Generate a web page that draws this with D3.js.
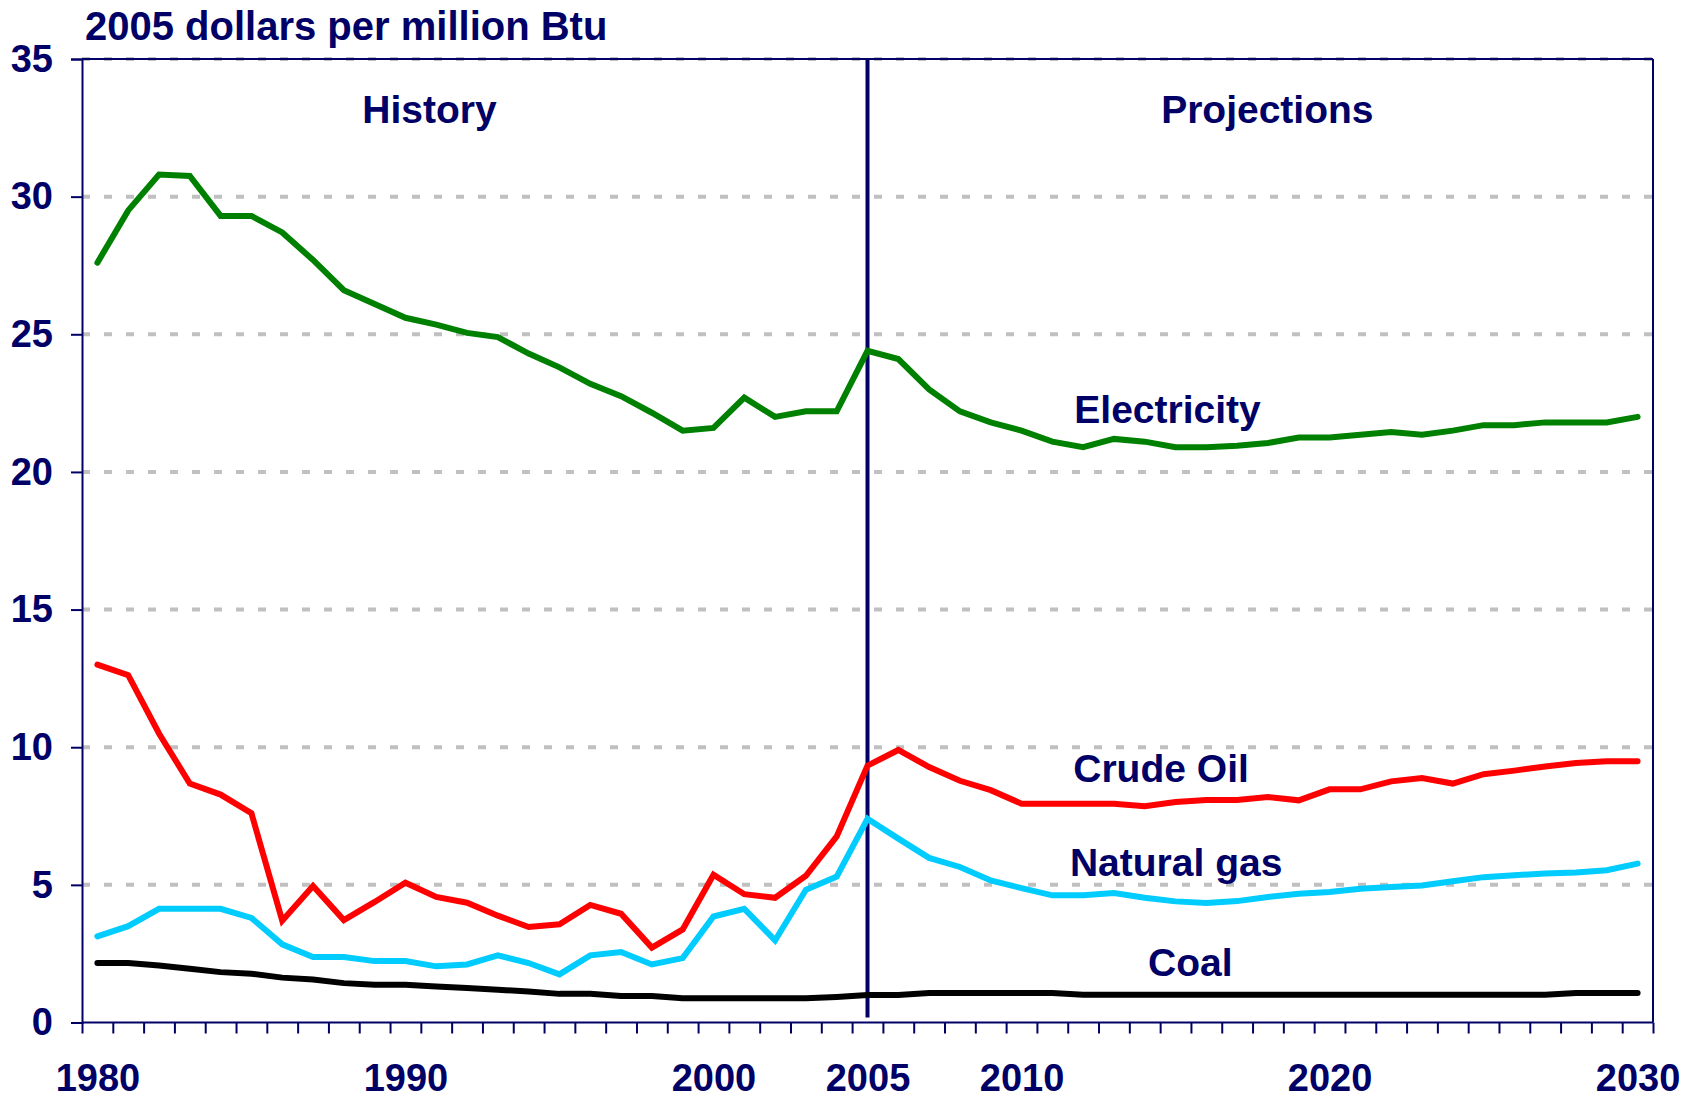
<!DOCTYPE html>
<html>
<head>
<meta charset="utf-8">
<script src="https://cdn.jsdelivr.net/npm/d3@7"></script>
<style>
  body { margin: 0; background: #fff; }
  text { font-family: "Liberation Sans", Arial, sans-serif; font-weight: bold; fill: #000066; }
</style>
</head>
<body>
<script>
// years 1980..2030
var years = d3.range(1980, 2031);

var electricity = [27.6, 29.5, 30.8, 30.75, 29.3, 29.3, 28.7, 27.7, 26.6, 26.1,
  25.6, 25.35, 25.05, 24.9, 24.3, 23.8, 23.2, 22.75, 22.15, 21.5,
  21.6, 22.7, 22.0, 22.2, 22.2, 24.4, 24.1, 23.0, 22.2, 21.8,
  21.5, 21.1, 20.9, 21.2, 21.1, 20.9, 20.9, 20.95, 21.05, 21.25,
  21.25, 21.35, 21.45, 21.35, 21.5, 21.7, 21.7, 21.8, 21.8, 21.8, 22.0];

var crudeOil = [13.0, 12.62, 10.5, 8.68, 8.28, 7.6, 3.7, 4.96, 3.72, 4.38,
  5.08, 4.56, 4.35, 3.88, 3.47, 3.57, 4.27, 3.95, 2.72, 3.38,
  5.37, 4.66, 4.53, 5.33, 6.76, 9.33, 9.9, 9.28, 8.78, 8.44,
  7.95, 7.95, 7.95, 7.95, 7.86, 8.01, 8.08, 8.08, 8.19, 8.07,
  8.47, 8.47, 8.76, 8.88, 8.68, 9.02, 9.15, 9.3, 9.43, 9.49, 9.49];

var naturalGas = [3.13, 3.5, 4.13, 4.13, 4.13, 3.8, 2.84, 2.38, 2.38, 2.23,
  2.23, 2.04, 2.11, 2.44, 2.16, 1.75, 2.44, 2.56, 2.11, 2.34,
  3.85, 4.13, 2.98, 4.82, 5.3, 7.4, 6.68, 5.98, 5.65, 5.16,
  4.88, 4.62, 4.62, 4.7, 4.53, 4.4, 4.34, 4.41, 4.56, 4.68,
  4.74, 4.86, 4.92, 4.98, 5.13, 5.28, 5.35, 5.41, 5.45, 5.53, 5.77];

var coal = [2.16, 2.16, 2.07, 1.95, 1.83, 1.77, 1.63, 1.56, 1.43, 1.37,
  1.37, 1.31, 1.25, 1.19, 1.13, 1.04, 1.04, 0.96, 0.96, 0.88,
  0.88, 0.88, 0.88, 0.88, 0.93, 1.0, 1.0, 1.07, 1.07, 1.07,
  1.07, 1.07, 1.01, 1.01, 1.01, 1.01, 1.01, 1.01, 1.01, 1.01,
  1.01, 1.01, 1.01, 1.01, 1.01, 1.01, 1.01, 1.01, 1.07, 1.07, 1.07];

var seriesNames = ["Electricity", "Crude Oil", "Natural gas", "Coal"];
var seriesColors = ["#008000", "#ff0000", "#00ccff", "#000000"];
var seriesValues = [electricity, crudeOil, naturalGas, coal];

// label anchors in data units: [year, value]
var labelPos = [[2014.74, 21.79], [2014.53, 8.75], [2015.02, 5.33], [2015.48, 1.69]];
var periodLabels = ["History", "Projections"];
var periodPos = [[1990.78, 32.68], [2017.98, 32.68]];

var xTickLabels = [1980, 1990, 2000, 2005, 2010, 2020, 2030];
var yTicks = [0, 5, 10, 15, 20, 25, 30, 35];
var splitYear = 2005;
var yTitle = "2005 dollars per million Btu";

var W = 1696, H = 1099;
var navy = "#000066";

var x = d3.scaleLinear().domain([1979.5, 2030.5]).range([82, 1653]);
var y = d3.scaleLinear().domain([0, 35]).range([1022.5, 59]);

var svg = d3.select("body").append("svg")
  .attr("width", W)
  .attr("height", H)
  .style("background", "#fff");

// dashed gridlines
svg.append("g")
  .selectAll("line")
  .data(yTicks.filter(function(d) { return d > 0; }))
  .join("line")
  .attr("x1", x(1979.5)).attr("x2", x(2030.5))
  .attr("y1", function(d) { return y(d); })
  .attr("y2", function(d) { return y(d); })
  .attr("stroke", "#c0c0c0")
  .attr("stroke-width", 4)
  .attr("stroke-dasharray", "8,14");

// frame top and right
svg.append("line")
  .attr("x1", x(1979.5)).attr("x2", x(2030.5))
  .attr("y1", y(35)).attr("y2", y(35))
  .attr("stroke", navy).attr("stroke-width", 2);
svg.append("line")
  .attr("x1", x(2030.5)).attr("x2", x(2030.5))
  .attr("y1", y(35)).attr("y2", y(0))
  .attr("stroke", navy).attr("stroke-width", 2);

// y axis
var yAxis = d3.axisLeft(y).tickValues(yTicks).tickSize(11).tickPadding(18).tickFormat(d3.format("d"));
var gy = svg.append("g")
  .attr("transform", "translate(" + x(1979.5) + ",0)")
  .call(yAxis);
gy.selectAll("path, line").attr("stroke", navy).attr("stroke-width", 2);
gy.selectAll("text").style("font-size", "38px").attr("fill", navy)
  .style("font-family", "'Liberation Sans', Arial, sans-serif");

// x axis: tick marks on year boundaries
var xMarks = d3.axisBottom(x).tickValues(d3.range(1979.5, 2031, 1)).tickSize(11).tickFormat("");
var gxm = svg.append("g")
  .attr("transform", "translate(0," + y(0) + ")")
  .call(xMarks);
gxm.selectAll("path, line").attr("stroke", navy).attr("stroke-width", 2);
gxm.select("path").attr("d", "M" + x(1979.5) + ",0H" + x(2030.5));

// x axis labels at data years
var xLabels = d3.axisBottom(x).tickValues(xTickLabels).tickSize(0).tickPadding(42).tickFormat(d3.format("d"));
var gxl = svg.append("g")
  .attr("transform", "translate(0," + y(0) + ")")
  .call(xLabels);
gxl.select("path").remove();
gxl.selectAll("text").style("font-size", "38px").attr("fill", navy)
  .style("font-family", "'Liberation Sans', Arial, sans-serif");

// history / projections divider
svg.append("line")
  .attr("x1", x(splitYear)).attr("x2", x(splitYear))
  .attr("y1", y(35)).attr("y2", y(0) - 5)
  .attr("stroke", navy).attr("stroke-width", 4);

// series lines
var line = d3.line()
  .x(function(d, i) { return x(years[i]); })
  .y(function(d) { return y(d); });

svg.append("g")
  .selectAll("path")
  .data(seriesValues)
  .join("path")
  .attr("d", line)
  .attr("fill", "none")
  .attr("stroke", function(d, i) { return seriesColors[i]; })
  .attr("stroke-width", 6)
  .attr("stroke-linejoin", "miter")
  .attr("stroke-linecap", "round");

// series labels
svg.append("g")
  .selectAll("text")
  .data(seriesNames)
  .join("text")
  .attr("x", function(d, i) { return x(labelPos[i][0]); })
  .attr("y", function(d, i) { return y(labelPos[i][1]); })
  .attr("text-anchor", "middle")
  .style("font-size", "39px")
  .text(function(d) { return d; });

// period labels
svg.append("g")
  .selectAll("text")
  .data(periodLabels)
  .join("text")
  .attr("x", function(d, i) { return x(periodPos[i][0]); })
  .attr("y", function(d, i) { return y(periodPos[i][1]); })
  .attr("text-anchor", "middle")
  .style("font-size", "39px")
  .text(function(d) { return d; });

// axis title
svg.append("text")
  .attr("x", 85)
  .attr("y", 40)
  .style("font-size", "40px")
  .text(yTitle);
</script>
</body>
</html>
